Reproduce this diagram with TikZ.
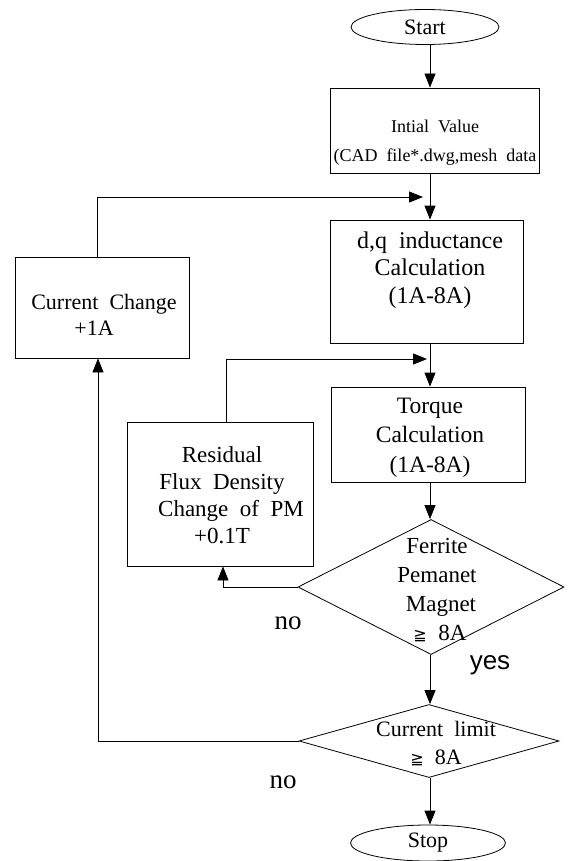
\documentclass[tikz,border=0pt]{standalone}
\usepackage{fontspec}
\setmainfont{Liberation Serif}
\newfontfamily\symf{DejaVu Sans}
\newfontfamily\labsans{Liberation Sans}
\newcommand\geqsym{{\symf\fontsize{16}{16}\selectfont ≧}}
\usetikzlibrary{shapes.geometric,arrows.meta}
\begin{document}
\begin{tikzpicture}[x=1pt,y=-1pt,
  box/.style={draw, line width=0.8pt, inner sep=0pt},
  txt/.style={align=center, inner sep=0pt, font=\fontsize{23}{28}\selectfont},
  arr/.style={draw, line width=0.8pt, -{Triangle[length=14pt,width=11pt]}},
  term/.style={draw, ellipse, line width=0.8pt, inner sep=0pt, font=\fontsize{22}{24}\selectfont},
  dec/.style={draw, diamond, line width=0.8pt, inner sep=0pt}]
\useasboundingbox (0,0) rectangle (570,861);
\coordinate (col) at (430,0);

% terminals
\node[term, minimum width=148pt, minimum height=35pt] (start) at (425,27) {Start};
\node[term, minimum width=155pt, minimum height=36pt] (stop) at (428,843) {Stop};

% boxes
\node[box, minimum width=209pt, minimum height=85pt] (init) at (434.5,130.5) {};
\node[txt, font=\fontsize{18}{29}\selectfont] (initT) at (435,142.5) {Intial\ \ Value\\(CAD\ \ file*.dwg,mesh\ \ data};

\node[box, minimum width=193pt, minimum height=123pt] (dq) at (426.5,281.5) {};
\node[txt, font=\fontsize{24}{27.5}\selectfont] (dqT) at (430,270) {d,q\ \ inductance\\Calculation\\(1A-8A)};

\node[box, minimum width=194pt, minimum height=95pt] (torque) at (428,434.5) {};
\node[txt, font=\fontsize{23.5}{29.5}\selectfont] (torqueT) at (430,437.5) {Torque\\Calculation\\(1A-8A)};

\node[box, minimum width=174pt, minimum height=101pt] (cc) at (102,307.5) {};
\node[txt, font=\fontsize{22}{26}\selectfont] (ccT) at (104,315) {Current\ \ Change\\+1A\hspace*{20pt}};

\node[box, minimum width=186pt, minimum height=144pt] (res) at (220,494) {};
\node[txt, font=\fontsize{23}{27}\selectfont] (resT) at (222,495) {Residual\\Flux\ \ Density\\\hspace*{18pt}Change\ \ of\ \ PM\\+0.1T};

% decisions
\node[dec, minimum width=266pt, minimum height=135pt] (d1) at (431,587) {};
\node[txt, font=\fontsize{23}{28.7}\selectfont] (d1T) at (437,590) {Ferrite\\Pemanet\\\hspace*{8pt}Magnet\\\hspace*{6pt}\geqsym\ \ 8A};

\node[dec, minimum width=260pt, minimum height=73pt] (d2) at (429,741) {};
\node[txt, font=\fontsize{22}{28}\selectfont] (d2T) at (436,744) {Current\ \ limit\\\geqsym\ \ 8A};

% main flow
\draw[arr] (start.south -| col) -- (init.north -| col);
\draw[arr] (init.south -| col) -- (dq.north -| col);
\draw[arr] (dq.south -| col) -- (torque.north -| col);
\draw[arr] (torque.south -| col) -- (d1.north -| col);
\draw[arr] (d1.south -| col) -- (d2.north -| col);
\draw[arr] (d2.south -| col) -- (stop.north -| col);

% loops
\coordinate (l1) at (97,197);
\coordinate (l1e) at (423,197);
\draw[arr] (cc.north -| l1) -- (l1) -- (l1e);
\coordinate (l2) at (226,359);
\coordinate (l2e) at (427,359);
\draw[arr] (res.north -| l2) -- (l2) -- (l2e);
\coordinate (r1) at (223,587);
\draw[arr] (d1.west) -- (r1) -- (res.south -| r1);
\coordinate (r2) at (98,741);
\draw[arr] (d2.west) -- (r2) -- (cc.south -| r2);

% labels
\node[inner sep=0pt, font=\fontsize{27}{27}\selectfont] (no1) at (288,623) {no};
\node[inner sep=0pt, font=\labsans\fontsize{26}{26}\selectfont] (yes) at (490,665) {yes};
\node[inner sep=0pt, font=\fontsize{27}{27}\selectfont] (no2) at (283,782) {no};
\end{tikzpicture}
\end{document}
